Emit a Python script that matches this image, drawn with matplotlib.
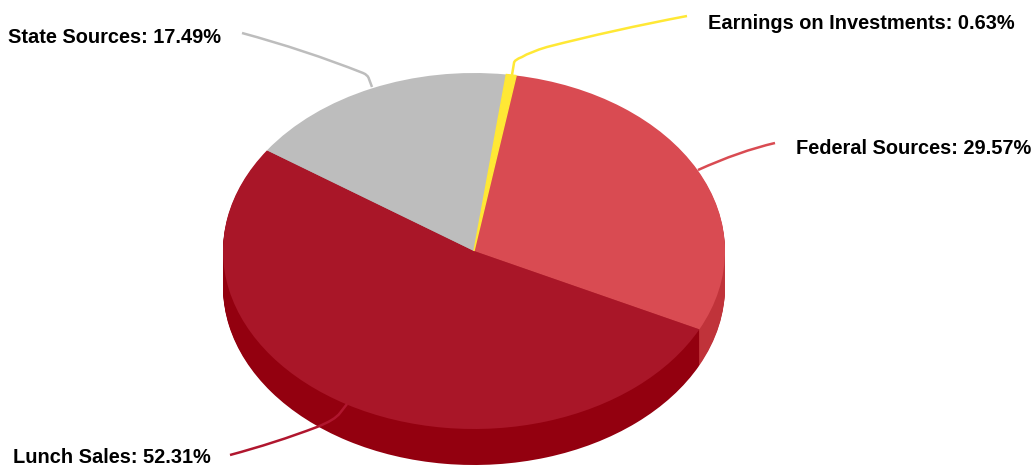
import matplotlib
matplotlib.use("Agg")
import matplotlib.pyplot as plt
from matplotlib.path import Path
from matplotlib.patches import PathPatch

plt.rcParams['font.family'] = ['Liberation Sans', 'DejaVu Sans']

labels = ["Earnings on Investments", "Federal Sources", "Lunch Sales", "State Sources"]
values = [0.63, 29.57, 52.31, 17.49]
top_colors = ["#FFE835", "#D94B52", "#A91628", "#BDBDBD"]
side_colors = ["#D9C020", "#C0333A", "#93000F", "#A0A0A0"]

W, H = 1036, 466
cx, cy = 474, 251   # pie centre in pixels
rx, ry = 251, 178   # ellipse radii in pixels
depth = 36

fig = plt.figure(figsize=(W / 100, H / 100), dpi=100)

# pie axes, unit circle squashed into the ellipse
ax = fig.add_axes([0, 0, 1, 1])
for d in range(depth, 0, -1):
    ax.pie(values, colors=side_colors, startangle=82.6, counterclock=False,
           center=(0, -d / ry), wedgeprops={"linewidth": 0})
wedges, _ = ax.pie(values, colors=top_colors, startangle=82.6, counterclock=False,
                   wedgeprops={"linewidth": 0})
# thin slice looks a bit wider in the original, it has a stroke
wedges[0].set_edgecolor(top_colors[0])
wedges[0].set_linewidth(1.0)
wedges[0].set_zorder(5)
ax.set_aspect("auto")
ax.set_xlim(-cx / rx, (W - cx) / rx)
ax.set_ylim(-(H - cy) / ry, cy / ry)
ax.axis("off")

# overlay in pixel coords for labels and leader lines
ov = fig.add_axes([0, 0, 1, 1])
ov.set_xlim(0, W)
ov.set_ylim(H, 0)
ov.axis("off")
ov.patch.set_alpha(0)

M, Q, L = Path.MOVETO, Path.CURVE3, Path.LINETO
leaders = {
    "Earnings on Investments": ([(687, 16), (613, 30), (547, 47), (530, 52), (522, 57), (514, 60), (514, 63), (512, 75)],
                                [M, Q, Q, Q, Q, Q, Q, L]),
    "Federal Sources": ([(775, 143), (740, 151), (698, 170)], [M, Q, Q]),
    "Lunch Sales": ([(230, 455), (275, 443), (317, 427), (335, 420), (340, 413), (347, 404)],
                    [M, Q, Q, Q, Q, L]),
    "State Sources": ([(242, 33), (305, 50), (363, 73), (368, 75), (369, 79), (372, 87)],
                      [M, Q, Q, Q, Q, L]),
}
text_pos = {
    "Earnings on Investments": (708, 29),
    "Federal Sources": (796, 154),
    "Lunch Sales": (13, 463),
    "State Sources": (8, 43),
}
line_colors = {
    "Earnings on Investments": "#FFE835",
    "Federal Sources": "#D94B52",
    "Lunch Sales": "#B0162E",
    "State Sources": "#BDBDBD",
}

for name, val in zip(labels, values):
    pts, codes = leaders[name]
    ov.add_patch(PathPatch(Path(pts, codes), fill=False, edgecolor=line_colors[name], linewidth=1.8))
    x, y = text_pos[name]
    ov.text(x, y, "%s: %.2f%%" % (name, val), fontsize=14.4, fontweight="bold",
            color="black", va="baseline", ha="left")

fig.savefig("out.png", dpi=100)
